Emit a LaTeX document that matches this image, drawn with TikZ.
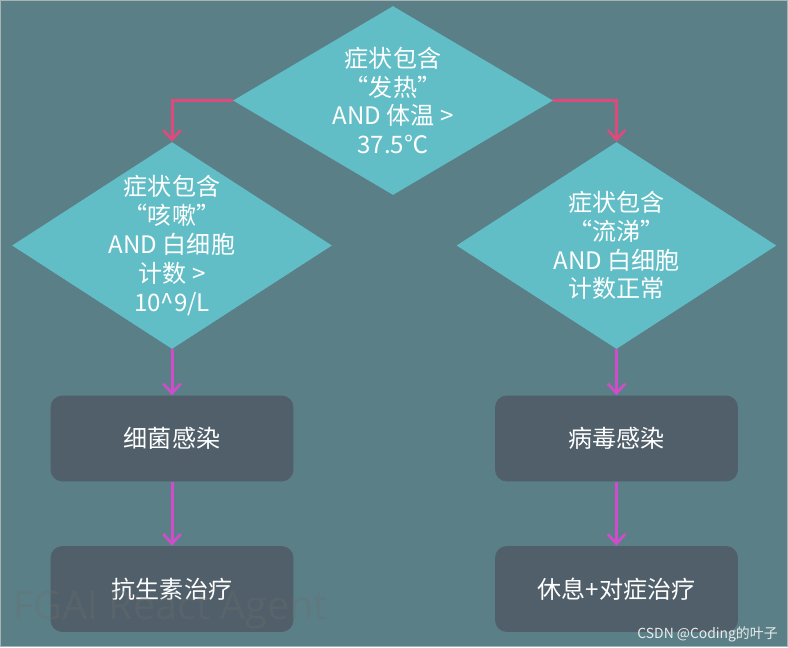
\documentclass[tikz,border=0pt]{standalone}
\usepackage{fontspec}
\setmainfont{Noto Sans CJK SC}
\newfontfamily\markfont{Open Sans}
\usetikzlibrary{shapes.geometric,arrows.meta}
\definecolor{bgteal}{HTML}{5A7F87}
\definecolor{diateal}{HTML}{62BEC6}
\definecolor{boxslate}{HTML}{505F69}
\definecolor{flowpink}{HTML}{E0497C}
\definecolor{flowmag}{HTML}{D04CCB}
\definecolor{framegray}{HTML}{A8B3B7}
\definecolor{markgray}{HTML}{6E6E6E}

\begin{document}
\begin{tikzpicture}[x=0.02cm,y=-0.02cm,
  cond/.style={diamond,fill=diateal,inner sep=0pt,minimum width=6.4cm},
  condtext/.style={text=white,align=center,font=\fontsize{13.7pt}{16.4pt}\selectfont},
  action/.style={rectangle,rounded corners=0.24cm,fill=boxslate,text=white,
    minimum width=4.86cm,minimum height=1.72cm,font=\fontsize{13.7pt}{16.4pt}\selectfont},
  flow/.style={line width=1.7pt,-{Straight Barb[length=5.5pt,width=10pt,line width=1.5pt]}}]
% background and frame
\fill[bgteal] (0,0) rectangle (788,647);
\draw[framegray,line width=0.6pt] (0.5,0.5) rectangle (787.5,646.5);
\useasboundingbox (0,0) rectangle (788,647);

% conditions
\node[cond,minimum height=3.78cm] (fever) at (393,100.5) {};
\node[condtext] at (fever) {症状包含\\“发热”\\AND 体温 >\\37.5℃};
\node[cond,minimum height=4.14cm] (cough) at (172,245.5) {};
\node[condtext] at (cough) {症状包含\\“咳嗽”\\AND 白细胞\\计数 >\\10\^{}9/L};
\node[cond,minimum height=4.14cm] (nose) at (616.5,245.5) {};
\node[condtext] at (nose) {症状包含\\“流涕”\\AND 白细胞\\计数正常};

% outcomes
\node[action] (bact) at (172,438.5) {细菌感染};
\node[action] (virus) at (616.5,438.5) {病毒感染};
\node[action] (anti) at (172,589) {抗生素治疗};
\node[action] (rest) at (616.5,589) {休息+对症治疗};

% arrows
\draw[flow,flowpink] (fever.west) -| (cough.north);
\draw[flow,flowpink] (fever.east) -| (nose.north);
\draw[flow,flowmag] (cough.south) -- (bact.north);
\draw[flow,flowmag] (nose.south) -- (virus.north);
\draw[flow,flowmag] (bact.south) -- (anti.north);
\draw[flow,flowmag] (virus.south) -- (rest.north);

% marks
\node[anchor=west,inner sep=0pt,text=markgray,text opacity=0.3,
  font=\markfont\fontsize{22.5pt}{26pt}\selectfont] (brand) at (13,610) {FGAI React Agent};
\node[anchor=east,inner sep=0pt,text=white!85!gray,
  font=\fontsize{7.9pt}{9pt}\selectfont] (csdn) at (778,634) {CSDN @Coding的叶子};
\end{tikzpicture}
\end{document}
